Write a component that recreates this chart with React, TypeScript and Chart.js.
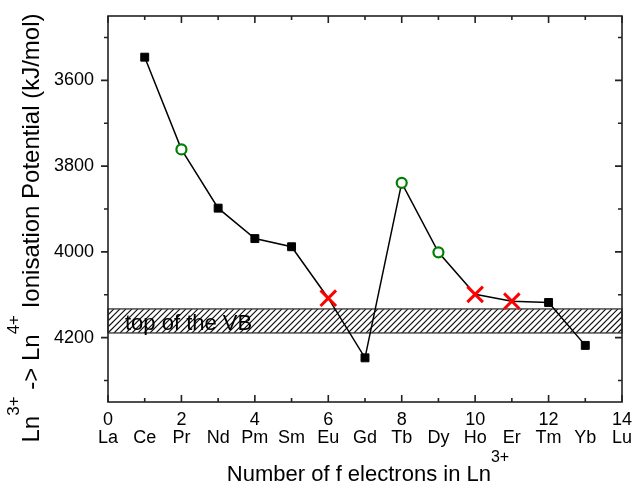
import React, { useEffect, useRef } from 'react';
import { Chart, registerables } from 'chart.js';

Chart.register(...registerables);

// ---- data ----
const fElectronCounts = [1, 2, 3, 4, 5, 6, 7, 8, 9, 10, 11, 12, 13];
const ionisationPotentials = [3546, 3761, 3898, 3969, 3988, 4108, 4247, 3839, 4001, 4099, 4115, 4118, 4218];
const markerKinds = ['square', 'circle', 'square', 'square', 'square', 'cross', 'square', 'circle', 'circle', 'cross', 'cross', 'square', 'square'];
const elementSymbols = ['La', 'Ce', 'Pr', 'Nd', 'Pm', 'Sm', 'Eu', 'Gd', 'Tb', 'Dy', 'Ho', 'Er', 'Tm', 'Yb', 'Lu'];
const xTickValues = [0, 1, 2, 3, 4, 5, 6, 7, 8, 9, 10, 11, 12, 13, 14];
const xTickNumberLabels = ['0', '', '2', '', '4', '', '6', '', '8', '', '10', '', '12', '', '14'];
const yTickValues = [3500, 3600, 3700, 3800, 3900, 4000, 4100, 4200, 4300];
const yTickLabels = ['', '3600', '', '3800', '', '4000', '', '4200', ''];
const xRange = [0, 14];
const yRange = [3450, 4350];
const vbBand = [4133, 4189];
const vbLabel = 'top of the VB';
const xTitle = [{ t: 'Number of f electrons in Ln' }, { t: '3+', sup: true }];
const yTitle = [
  { t: 'Ln' }, { t: '3+', sup: true }, { t: ' -> Ln' }, { t: '4+', sup: true },
  { t: ' Ionisation Potential (kJ/mol)' },
];

const FONT = '"Liberation Sans", Arial, sans-serif';

function drawRich(ctx: CanvasRenderingContext2D, segs: any[], x: number, y: number, size: number, supSize: number, raise: number) {
  const widths = segs.map((s) => {
    ctx.font = `${s.sup ? supSize : size}px ${FONT}`;
    return ctx.measureText(s.t).width;
  });
  const total = widths.reduce((a, b) => a + b, 0);
  let cx = x - total / 2;
  ctx.textAlign = 'left';
  ctx.textBaseline = 'alphabetic';
  ctx.fillStyle = '#000';
  segs.forEach((s, i) => {
    ctx.font = `${s.sup ? supSize : size}px ${FONT}`;
    ctx.fillText(s.t, cx, s.sup ? y - raise : y);
    cx += widths[i];
  });
}

const decorPlugin = {
  id: 'decor',
  beforeDatasetsDraw(chart: any) {
    const { ctx, chartArea: a, scales } = chart;
    const y1 = scales.y.getPixelForValue(vbBand[0]);
    const y2 = scales.y.getPixelForValue(vbBand[1]);
    const top = Math.min(y1, y2);
    const bot = Math.max(y1, y2);
    const l = scales.x.getPixelForValue(xRange[0]);
    const r = scales.x.getPixelForValue(xRange[1]);
    ctx.save();
    ctx.beginPath();
    ctx.rect(l, top, r - l, bot - top);
    ctx.clip();
    ctx.strokeStyle = '#111';
    ctx.lineWidth = 1.2;
    const h = bot - top;
    ctx.beginPath();
    for (let x = l - h; x < r + h; x += 6) {
      ctx.moveTo(x, bot);
      ctx.lineTo(x + h, top);
    }
    ctx.stroke();
    ctx.restore();
    ctx.save();
    ctx.strokeStyle = '#333';
    ctx.lineWidth = 1.3;
    ctx.strokeRect(l, top, r - l, bot - top);
    ctx.font = `22px ${FONT}`;
    ctx.fillStyle = '#000';
    ctx.textAlign = 'left';
    ctx.textBaseline = 'alphabetic';
    ctx.fillText(vbLabel, a.left + 17, bot - 3);
    ctx.restore();
  },
  afterDraw(chart: any) {
    const { ctx, chartArea: a, scales } = chart;
    ctx.save();
    ctx.strokeStyle = '#222';
    ctx.lineWidth = 1.6;
    ctx.strokeRect(a.left, a.top, a.right - a.left, a.bottom - a.top);
    ctx.beginPath();
    xTickValues.forEach((v, i) => {
      const px = scales.x.getPixelForValue(v);
      const len = xTickNumberLabels[i] ? 7 : 4;
      ctx.moveTo(px, a.bottom);
      ctx.lineTo(px, a.bottom - len);
      ctx.moveTo(px, a.top);
      ctx.lineTo(px, a.top + len);
    });
    yTickValues.forEach((v, i) => {
      const py = scales.y.getPixelForValue(v);
      const len = yTickLabels[i] ? 7 : 4;
      ctx.moveTo(a.left, py);
      ctx.lineTo(a.left - len, py);
      ctx.moveTo(a.right, py);
      ctx.lineTo(a.right - len, py);
    });
    ctx.stroke();
    ctx.restore();

    ctx.save();
    drawRich(ctx, xTitle, (a.left + a.right) / 2 + 3, 481, 22, 16, 19);
    ctx.restore();
    ctx.save();
    ctx.translate(39, 228);
    ctx.rotate(-Math.PI / 2);
    drawRich(ctx, yTitle, 0, 0, 24, 17, 20);
    ctx.restore();
  },
};

export default function App() {
  const ref = useRef<HTMLCanvasElement>(null);
  useEffect(() => {
    if (!ref.current) return;
    const chart = new Chart(ref.current, {
      type: 'line',
      data: {
        datasets: [
          {
            data: fElectronCounts.map((x, i) => ({ x, y: ionisationPotentials[i] })),
            borderColor: '#000',
            borderWidth: 1.5,
            fill: false,
            tension: 0,
            pointStyle: markerKinds.map((k) => (k === 'square' ? 'rect' : k === 'circle' ? 'circle' : 'crossRot')) as any,
            pointRadius: markerKinds.map((k) => (k === 'square' ? 5.6 : k === 'circle' ? 5 : 11)),
            pointBorderWidth: markerKinds.map((k) => (k === 'square' ? 1 : k === 'circle' ? 2.2 : 3)),
            pointBorderColor: markerKinds.map((k) => (k === 'square' ? '#000' : k === 'circle' ? '#008000' : '#ff0000')),
            pointBackgroundColor: markerKinds.map((k) => (k === 'square' ? '#000' : k === 'circle' ? '#fff' : '#ff0000')),
          },
        ],
      },
      options: {
        animation: false,
        responsive: true,
        maintainAspectRatio: false,
        layout: { padding: { top: 16, right: 11, left: 0, bottom: 0 } },
        plugins: { legend: { display: false }, tooltip: { enabled: false } },
        scales: {
          x: {
            type: 'linear',
            min: xRange[0],
            max: xRange[1],
            grid: { display: false, drawTicks: false },
            border: { display: false },
            afterBuildTicks: (s: any) => {
              s.ticks = xTickValues.map((v) => ({ value: v }));
            },
            afterFit: (s: any) => {
              s.height = 82;
              s.paddingLeft = 0;
              s.paddingRight = 0;
            },
            ticks: {
              autoSkip: false,
              maxRotation: 0,
              padding: 9,
              color: '#000',
              font: { family: FONT, size: 18, lineHeight: 1.0 },
              callback: (v: any) => {
                const i = xTickValues.indexOf(Number(v));
                return [xTickNumberLabels[i] || ' ', elementSymbols[i]];
              },
            },
          },
          y: {
            type: 'linear',
            reverse: true,
            min: yRange[0],
            max: yRange[1],
            grid: { display: false, drawTicks: false },
            border: { display: false },
            afterBuildTicks: (s: any) => {
              s.ticks = yTickValues.map((v) => ({ value: v }));
            },
            afterFit: (s: any) => {
              s.width = 108;
              s.paddingTop = 0;
              s.paddingBottom = 0;
            },
            ticks: {
              autoSkip: false,
              padding: 14,
              color: '#000',
              font: { family: FONT, size: 18 },
              callback: (v: any) => {
                const i = yTickValues.indexOf(Number(v));
                return yTickLabels[i];
              },
            },
          },
        },
      },
      plugins: [decorPlugin],
    });
    return () => chart.destroy();
  }, []);
  return (
    <div style={{ position: 'fixed', left: 0, top: 0, width: 633, height: 484, background: '#fff' }}>
      <canvas ref={ref} />
    </div>
  );
}
